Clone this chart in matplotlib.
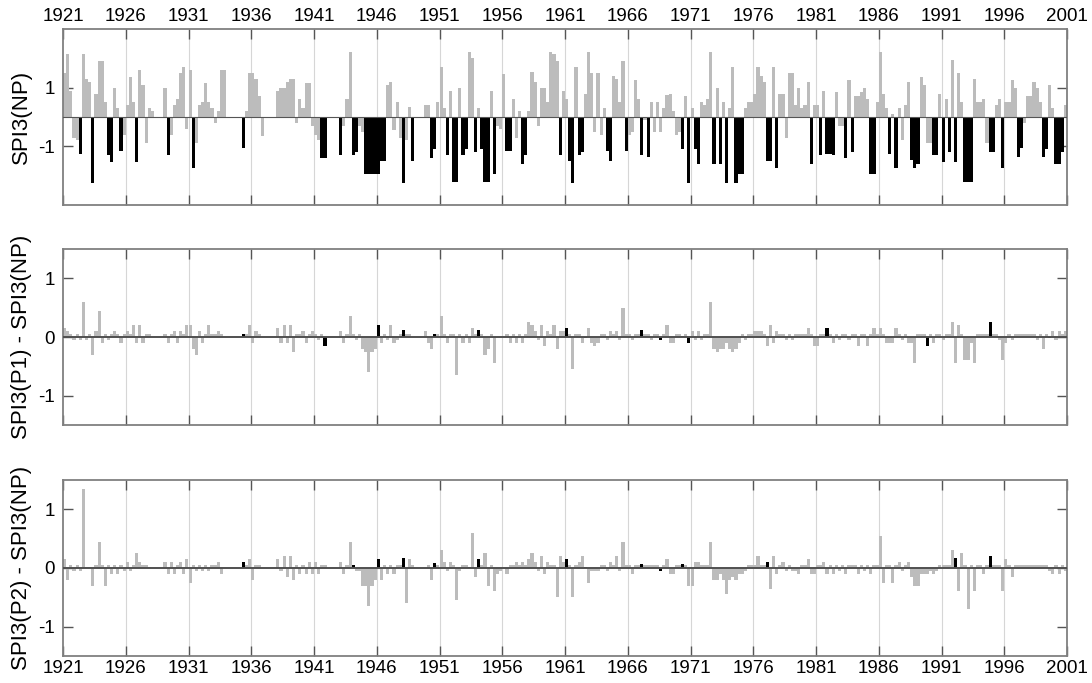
"""
Three stacked bar panels of quarterly SPI3 values, 1921-2001:
SPI3 of the non-parametric fit and the differences of two
parametric fits against it. Drought quarters are drawn in black.
"""
import numpy as np
import matplotlib
matplotlib.use('Agg')
import matplotlib.pyplot as plt

plt.rcParams['font.family'] = ['Liberation Sans', 'DejaVu Sans']

START_YEAR = 1921
END_YEAR = 2001
tick_years = list(range(1921, 2002, 5))

# SPI3(NP), one row per year, four quarters each (1921 ... 2000)
spi_np = [
    [1.5, 2.15, 0.9, -0.7], [-0.8, -1.25, 2.15, 1.3],
    [1.2, -2.25, 0.8, 1.9], [1.9, 0.5, -1.3, -1.55],
    [1.0, 0.3, -1.15, -0.6], [0.4, 1.35, 0.5, -1.55],
    [1.6, 1.1, -0.9, 0.3], [0.2, 0.0, 0.0, 0.0],
    [1.0, -1.3, -0.6, 0.4], [0.6, 1.5, 1.7, -0.4],
    [1.6, -1.75, -0.9, 0.4], [0.5, 1.15, 0.5, 0.3],
    [-0.2, 0.2, 1.6, 1.6], [0.0, 0.0, 0.0, 0.0],
    [0.0, -1.05, 0.2, 1.5], [1.5, 1.3, 0.7, -0.65],
    [0.0, 0.0, 0.0, 0.0], [0.9, 1.0, 1.0, 1.2],
    [1.3, 1.3, -0.2, 0.6], [0.3, 1.15, 1.15, -0.3],
    [-0.6, -0.8, -1.4, -1.4], [0.0, 0.0, 0.0, 0.0],
    [-1.3, -0.3, 0.6, 2.2], [-1.3, -1.2, -0.3, -0.5],
    [-1.95, -1.95, -1.95, -1.95], [-1.95, -1.5, -1.5, 1.1],
    [1.2, -0.45, 0.5, -0.7], [-2.25, -0.8, 0.35, -1.5],
    [0.0, 0.0, 0.0, 0.4], [0.4, -1.4, -1.1, 0.5],
    [1.7, 0.3, -1.3, 0.9], [-2.2, -2.2, 1.0, -1.3],
    [-1.1, 2.2, 2.0, -1.2], [0.3, -1.1, -2.2, -2.2],
    [0.9, -1.95, -0.3, -0.4], [1.45, -1.15, -1.15, 0.6],
    [-0.7, 0.2, -1.6, -1.3], [0.2, 1.55, 1.2, -0.3],
    [1.0, 1.0, 0.5, 2.2], [2.15, 1.9, -1.3, 0.9],
    [0.6, -1.5, -2.25, 1.7], [-1.3, -1.2, 0.8, 2.2],
    [1.5, -0.5, 1.5, -0.6], [0.3, -1.15, -1.5, 1.4],
    [1.3, 0.5, 1.9, -1.15], [-0.6, -0.5, 1.25, 0.6],
    [-1.3, -0.1, -1.35, 0.5], [-0.5, 0.5, -0.5, 0.3],
    [0.75, 0.8, 0.2, -0.6], [-0.5, -1.1, 0.7, -2.25],
    [0.3, -1.1, -1.6, 0.5], [0.4, 0.6, 2.2, -1.6],
    [1.0, -1.6, 0.5, -2.25], [0.3, 1.7, -2.25, -1.95],
    [-1.95, 0.3, 0.5, 0.5], [0.8, 1.7, 1.4, 1.2],
    [-1.5, -1.5, 1.7, -1.75], [0.8, 0.8, -0.7, 1.5],
    [1.5, 0.4, 1.0, 0.3], [0.4, 1.2, -1.6, 0.4],
    [0.4, -1.3, 0.9, -1.25], [-1.25, -1.3, 0.85, -0.3],
    [-0.3, -1.4, 1.25, -1.2], [0.7, 0.7, 0.85, 1.0],
    [0.6, -1.95, -1.95, 0.5], [2.2, 0.8, 0.3, -1.25],
    [0.1, -1.75, 0.3, -0.8], [0.4, 1.2, -1.45, -1.75],
    [-1.6, 1.35, 1.1, -0.9], [-0.9, -1.3, -1.3, 0.8],
    [-1.55, 0.6, -1.2, 1.95], [-1.55, 1.5, 0.5, -2.2],
    [-2.2, -2.2, 1.3, 0.5], [0.5, 0.6, -0.9, -1.2],
    [-1.2, 0.4, 0.6, -1.75], [0.5, 0.5, 1.25, 1.0],
    [-1.35, -1.05, -0.2, 0.7], [0.7, 1.2, 1.0, 0.5],
    [-1.35, -1.1, 1.1, 0.3], [-1.6, -1.6, -1.2, 0.4],
]

# SPI3(P1) - SPI3(NP)
diff_p1 = [
    [0.15, 0.1, 0.05, -0.05], [0.05, -0.05, 0.6, -0.05],
    [0.05, -0.3, 0.1, 0.45], [-0.1, 0.05, -0.05, 0.05],
    [0.1, 0.05, -0.1, 0.05], [0.1, 0.05, 0.2, -0.1],
    [0.2, -0.1, 0.05, 0.05], [0.0, 0.0, 0.0, 0.0],
    [0.05, -0.1, 0.05, 0.1], [-0.1, 0.1, 0.05, 0.2],
    [0.2, -0.2, -0.3, 0.1], [-0.1, 0.05, 0.2, 0.05],
    [0.05, 0.1, 0.05, 0.0], [0.0, 0.0, 0.0, 0.0],
    [0.0, 0.05, 0.05, 0.2], [-0.1, 0.1, 0.05, 0.0],
    [0.0, 0.0, 0.0, 0.0], [0.15, -0.1, 0.2, -0.1],
    [0.2, -0.25, 0.05, 0.05], [0.1, -0.1, 0.05, 0.1],
    [0.05, -0.05, 0.05, -0.15], [0.0, 0.0, 0.0, 0.0],
    [0.1, -0.1, 0.05, 0.35], [0.05, -0.05, 0.05, -0.2],
    [-0.25, -0.6, -0.25, -0.2], [0.2, -0.1, 0.05, -0.05],
    [0.2, -0.1, -0.05, 0.05], [0.12, 0.05, 0.05, 0.0],
    [0.0, 0.0, 0.0, 0.1], [-0.1, -0.2, 0.05, 0.05],
    [0.35, 0.05, -0.1, 0.05], [0.05, -0.65, 0.05, -0.1],
    [0.05, -0.1, 0.15, 0.05], [0.12, 0.05, -0.3, -0.2],
    [0.05, -0.45, 0.0, 0.0], [0.0, 0.05, -0.1, 0.05],
    [-0.1, 0.05, -0.1, 0.05], [0.25, 0.2, 0.1, -0.05],
    [0.2, -0.15, 0.1, 0.05], [0.2, -0.2, 0.1, 0.1],
    [0.15, 0.05, -0.55, 0.05], [0.05, -0.1, -0.02, 0.15],
    [-0.1, -0.15, -0.1, 0.05], [0.05, -0.05, 0.1, 0.05],
    [0.1, -0.05, 0.5, 0.05], [0.05, -0.05, 0.05, 0.05],
    [0.12, 0.05, 0.05, -0.05], [0.05, 0.05, -0.05, 0.05],
    [0.2, -0.1, -0.1, 0.05], [0.05, 0.02, 0.05, -0.1],
    [0.1, -0.05, 0.1, -0.05], [0.05, 0.05, 0.6, -0.2],
    [-0.25, -0.2, -0.2, -0.1], [-0.2, -0.25, -0.2, -0.1],
    [0.05, -0.05, 0.05, 0.05], [0.1, 0.1, 0.1, 0.05],
    [-0.15, 0.2, -0.1, 0.1], [0.05, 0.05, -0.05, 0.05],
    [-0.05, 0.05, 0.05, 0.05], [0.05, 0.15, 0.05, -0.15],
    [-0.15, 0.05, 0.05, 0.15], [0.05, -0.1, 0.05, -0.05],
    [0.05, 0.05, -0.05, 0.05], [0.05, -0.15, 0.05, 0.05],
    [-0.15, 0.05, 0.15, 0.05], [0.15, 0.05, -0.1, -0.1],
    [-0.1, 0.15, 0.05, -0.05], [0.05, -0.1, -0.1, -0.45],
    [0.05, 0.05, 0.05, -0.15], [0.05, -0.1, 0.05, 0.05],
    [-0.05, 0.05, 0.05, 0.25], [-0.45, 0.2, 0.05, -0.4],
    [-0.4, -0.1, -0.45, 0.05], [0.05, 0.05, 0.05, 0.25],
    [0.05, 0.05, -0.05, -0.4], [-0.1, 0.05, -0.05, 0.05],
    [0.05, 0.05, 0.05, 0.05], [0.05, 0.05, -0.05, 0.05],
    [-0.2, 0.05, -0.02, 0.1], [-0.05, 0.1, 0.05, 0.1],
]

# SPI3(P2) - SPI3(NP)
diff_p2 = [
    [0.15, -0.2, 0.05, -0.05], [0.05, -0.05, 1.35, 0.02],
    [0.02, -0.3, 0.05, 0.45], [0.05, -0.3, 0.05, -0.1],
    [0.05, -0.1, 0.05, -0.05], [0.1, -0.05, 0.05, 0.25],
    [0.1, 0.05, 0.05, 0.02], [0.0, 0.0, 0.0, 0.0],
    [0.1, -0.1, 0.1, -0.1], [0.05, 0.1, -0.1, 0.15],
    [-0.25, 0.05, -0.05, 0.05], [-0.05, 0.05, -0.05, 0.05],
    [0.05, 0.1, -0.1, 0.0], [0.0, 0.0, 0.0, 0.0],
    [0.0, 0.1, 0.05, 0.15], [-0.2, 0.05, 0.05, 0.0],
    [0.0, 0.0, 0.0, 0.0], [0.15, -0.05, 0.2, -0.15],
    [0.2, -0.2, 0.05, -0.1], [0.05, -0.1, 0.1, -0.1],
    [0.1, -0.1, 0.05, 0.05], [0.0, 0.0, 0.0, 0.0],
    [0.1, -0.1, 0.05, 0.45], [0.05, -0.05, -0.05, -0.3],
    [-0.3, -0.65, -0.3, -0.2], [0.15, -0.2, 0.05, -0.1],
    [0.05, -0.1, 0.05, 0.05], [0.17, -0.6, 0.15, 0.05],
    [0.0, 0.0, 0.0, 0.0], [0.05, -0.2, 0.08, 0.05],
    [0.3, 0.1, -0.05, 0.1], [0.05, -0.55, -0.05, 0.05],
    [0.05, 0.02, 0.6, -0.15], [0.15, 0.05, 0.25, -0.3],
    [0.05, -0.4, -0.1, -0.05], [0.0, -0.1, 0.05, 0.05],
    [0.1, 0.05, 0.1, 0.05], [0.15, 0.25, 0.1, -0.05],
    [0.2, -0.1, 0.1, 0.05], [0.05, -0.5, 0.2, 0.1],
    [0.15, 0.05, -0.5, 0.05], [0.1, 0.2, 0.02, -0.25],
    [-0.05, -0.05, -0.05, 0.05], [0.05, -0.05, 0.1, 0.05],
    [0.2, -0.05, 0.45, 0.05], [0.05, -0.1, 0.05, 0.05],
    [0.07, 0.05, 0.05, 0.05], [0.05, 0.05, -0.05, 0.05],
    [0.15, -0.1, -0.1, 0.05], [0.05, 0.07, 0.05, -0.3],
    [-0.3, 0.1, 0.1, 0.05], [0.05, 0.05, 0.45, -0.2],
    [-0.2, -0.1, -0.2, -0.45], [-0.2, -0.15, -0.2, -0.1],
    [-0.1, -0.05, 0.05, 0.05], [0.05, 0.2, 0.05, 0.05],
    [0.1, -0.35, 0.2, -0.1], [0.05, 0.1, -0.05, 0.05],
    [-0.05, -0.05, -0.1, 0.05], [0.05, 0.15, -0.1, -0.1],
    [0.05, 0.05, 0.1, -0.1], [0.05, -0.1, 0.05, -0.05],
    [0.05, -0.1, 0.05, 0.05], [0.05, -0.1, 0.05, -0.05],
    [0.05, -0.1, 0.05, 0.05], [0.55, -0.25, 0.05, 0.05],
    [-0.25, 0.05, 0.1, -0.05], [0.05, 0.1, -0.15, -0.3],
    [-0.3, -0.1, -0.1, -0.1], [-0.05, -0.1, -0.05, 0.05],
    [0.05, 0.05, 0.05, 0.3], [0.17, -0.4, 0.25, 0.05],
    [-0.7, 0.05, -0.4, 0.05], [0.05, -0.1, 0.05, 0.2],
    [0.05, 0.05, 0.05, -0.4], [0.15, 0.05, -0.15, 0.05],
    [0.05, 0.05, 0.05, 0.05], [0.05, 0.05, 0.05, 0.05],
    [0.05, 0.05, -0.05, -0.1], [0.05, -0.1, 0.05, -0.05],
]

# quarters (start year) drawn in black in the difference panels
p1_black = [1935.25, 1941.75, 1946.0, 1948.0, 1950.5, 1954.0, 1961.0,
            1962.5, 1967.0, 1968.5, 1970.25, 1970.75, 1981.75, 1989.75,
            1994.75, 1999.5]
p2_black = [1935.25, 1944.0, 1946.0, 1948.0, 1950.5, 1953.25, 1954.0,
            1961.0, 1962.5, 1967.0, 1968.5, 1970.25, 1977.0, 1992.0,
            1994.75]

GRAY = '#bcbcbc'
FIG_W, FIG_H = 1092, 683


def style_axes(ax, ylim, yticks, yticklabels, ylabel, xlabels):
    """
    Common frame: limits, inward ticks on all sides,
    light vertical grid lines and the y label.
    """
    ax.set_xlim(START_YEAR, END_YEAR)
    ax.set_ylim(*ylim)
    ax.set_xticks(tick_years)
    ax.set_yticks(yticks)
    ax.set_yticklabels(yticklabels)
    for x in tick_years[1:-1]:
        ax.axvline(x, color='#d6d6d6', lw=0.8, zorder=0)
    ax.tick_params(axis='both', direction='in', length=7, width=1,
                   color='#555555', labelsize=13.5, top=True, right=True,
                   labelright=False)
    ax.tick_params(axis='y', pad=6)
    ax.tick_params(axis='x', pad=3)
    if xlabels == 'top':
        ax.tick_params(axis='x', labeltop=True, labelbottom=False)
    elif xlabels == 'bottom':
        ax.tick_params(axis='x', labeltop=False, labelbottom=True)
    else:
        ax.tick_params(axis='x', labeltop=False, labelbottom=False)
    for sp in ax.spines.values():
        sp.set_color('#808080')
        sp.set_linewidth(1.3)
    ax.set_ylabel(ylabel, fontsize=16)
    ax.yaxis.set_label_coords(-0.031, 0.5)


def plot_spi(ax, values):
    """
    Bars of SPI3(NP); quarters at or below -1 are black.
    """
    vals = np.array(values).ravel()
    x = START_YEAR + np.arange(len(vals)) * 0.25
    colors = ['black' if v <= -1 else GRAY for v in vals]
    ax.bar(x, vals, width=0.25, align='edge', color=colors,
           linewidth=0, zorder=2)
    ax.axhline(0, color='#555555', lw=0.8, zorder=3)


def plot_diff(ax, values, black_quarters):
    """
    Bars of a difference series; flagged quarters are black.
    """
    vals = np.array(values).ravel()
    x = START_YEAR + np.arange(len(vals)) * 0.25
    idx = {int(round((q - START_YEAR) * 4)) for q in black_quarters}
    colors = ['black' if i in idx else GRAY for i in range(len(vals))]
    order = np.argsort([c == 'black' for c in colors], kind='stable')
    ax.bar(x[order], vals[order], width=0.25, align='edge',
           color=[colors[i] for i in order], linewidth=0, zorder=2)
    ax.axhline(0, color='#505050', lw=1.4, zorder=3)


def main():
    """
    Build the three panels and save out.png
    """
    fig = plt.figure(figsize=(FIG_W / 100, FIG_H / 100), dpi=100)
    left = 63 / FIG_W
    width = (1067 - 63) / FIG_W
    height = 176 / FIG_H

    ax1 = fig.add_axes([left, (FIG_H - 205) / FIG_H, width, height])
    ax2 = fig.add_axes([left, (FIG_H - 425) / FIG_H, width, height])
    ax3 = fig.add_axes([left, (FIG_H - 656) / FIG_H, width, height])

    plot_spi(ax1, spi_np)
    style_axes(ax1, (-3, 3), [-1, 1], ['-1', '1'], 'SPI3(NP)', 'top')

    plot_diff(ax2, diff_p1, p1_black)
    style_axes(ax2, (-1.5, 1.5), [-1, 0, 1], ['-1', '0', '1'],
               'SPI3(P1) - SPI3(NP)', None)

    plot_diff(ax3, diff_p2, p2_black)
    style_axes(ax3, (-1.5, 1.5), [-1, 0, 1], ['-1', '0', '1'],
               'SPI3(P2) - SPI3(NP)', 'bottom')

    fig.savefig('out.png', dpi=100)


if __name__ == '__main__':
    main()
